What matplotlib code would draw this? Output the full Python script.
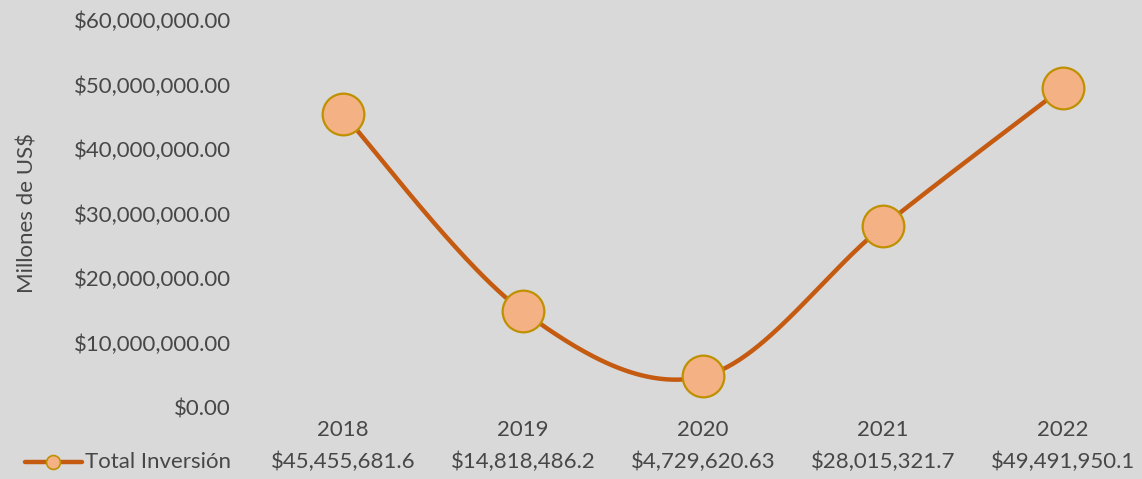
import numpy as np
import matplotlib.pyplot as plt
from matplotlib.lines import Line2D
from matplotlib.ticker import FuncFormatter
import matplotlib.transforms as mtransforms

plt.rcParams['font.family'] = ['Lato', 'DejaVu Sans']

years = ['2018', '2019', '2020', '2021', '2022']
inversion = [45455681.6, 14818486.2, 4729620.63, 28015321.7, 49491950.1]
table_labels = ['$45,455,681.6', '$14,818,486.2', '$4,729,620.63', '$28,015,321.7', '$49,491,950.1']
series_name = 'Total Inversión'

bg = '#d9d9d9'
text_color = '#474747'
line_color = '#c55a11'
marker_face = '#f4b183'
marker_edge = '#bf9000'
fs = 16

W, H = 1142, 479
fig = plt.figure(figsize=(W / 100, H / 100), dpi=100, facecolor=bg)
ax = fig.add_axes([253 / W, (H - 407) / H, 900 / W, 387 / H], facecolor=bg)

x = np.arange(len(years))
y = np.array(inversion)

# smoothed line: cubic Bezier through the points, computed in pixel space
px_x = 180.0
px_y = 387.0 / 60e6
P = np.column_stack([x * px_x, y * px_y])
curve = []
for i in range(len(P) - 1):
    p0 = P[max(i - 1, 0)]
    p1 = P[i]
    p2 = P[i + 1]
    p3 = P[min(i + 2, len(P) - 1)]
    c1 = p1 + (p2 - p0) / 6
    c2 = p2 - (p3 - p1) / 6
    t = np.linspace(0, 1, 60)[:, None]
    seg = (1 - t) ** 3 * p1 + 3 * (1 - t) ** 2 * t * c1 + 3 * (1 - t) * t ** 2 * c2 + t ** 3 * p2
    curve.append(seg if i == 0 else seg[1:])
curve = np.vstack(curve)

ax.plot(curve[:, 0] / px_x, curve[:, 1] / px_y, color=line_color, lw=3.2,
        solid_capstyle='round', zorder=2)
ax.plot(x, y, ls='none', marker='o', ms=30, mfc=marker_face, mec=marker_edge,
        mew=1.6, zorder=3)

ax.set_xlim(-0.5, len(years) - 0.5)
ax.set_ylim(0, 60e6)
ax.set_yticks(np.arange(0, 60e6 + 1, 10e6))
ax.yaxis.set_major_formatter(FuncFormatter(lambda v, p: f'${v:,.2f}'))
ax.set_xticks(x)
ax.set_xticklabels(years)
ax.tick_params(axis='both', length=0, labelsize=fs, colors=text_color)
ax.tick_params(axis='y', pad=16)
ax.tick_params(axis='x', pad=9)
for s in ax.spines.values():
    s.set_visible(False)

fig.text(28 / W, 1 - 213 / H, 'Millones de US$', rotation=90, ha='center', va='center',
         fontsize=fs, color=text_color)

# data table row under the axis
trans = mtransforms.blended_transform_factory(ax.transData, fig.transFigure)
for xi, lab in zip(x, table_labels):
    fig.text(xi, 1 - 462 / H, lab, transform=trans, ha='center', va='center',
             fontsize=fs, color=text_color)

ly = 1 - 462 / H
fig.add_artist(Line2D([25 / W, 82 / W], [ly, ly], color=line_color, lw=3.2,
                      solid_capstyle='round', transform=fig.transFigure))
fig.add_artist(Line2D([53 / W], [ly], marker='o', ms=10, mfc=marker_face, mec=marker_edge,
                      mew=1.2, transform=fig.transFigure))
fig.text(85 / W, ly, series_name, ha='left', va='center', fontsize=fs, color=text_color)

fig.savefig('out.png', dpi=100, facecolor=bg)
